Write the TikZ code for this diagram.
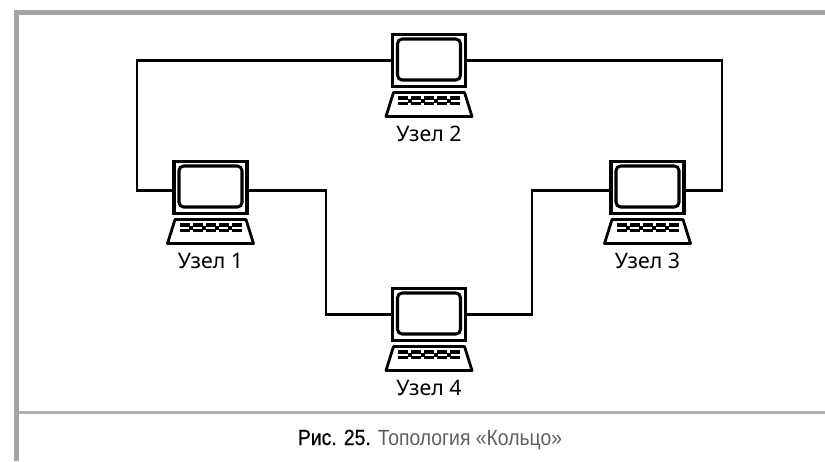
\documentclass[tikz,border=0pt]{standalone}
\usepackage{fontspec}
\setmainfont{Noto Sans}
\newfontfamily\capfont{Liberation Sans}
\definecolor{framegray}{RGB}{163,163,163}
\definecolor{rulegray}{RGB}{175,175,175}
\definecolor{capgray}{RGB}{95,95,95}
\tikzset{
  x=0.75pt,y=-0.75pt,
  screenbox/.style={draw=black,line width=2.7pt,fill=white,rectangle,minimum width=54.5pt,minimum height=39pt,inner sep=0pt,outer sep=0pt},
  screenin/.style={draw=black,line width=2.3pt,rounded corners=3.5pt},
  kbd/.style={draw=black,line width=2.1pt,line join=round},
  wire/.style={draw=black,line width=2.2pt,line join=miter},
  nodelabel/.style={font=\fontsize{16pt}{18pt}\selectfont,text=black,inner sep=0pt},
  framebar/.style={fill=framegray,draw=none},
}
\newcommand{\laptop}[4]{% name, cx, top, label
  \node[screenbox] (#1) at (#2,#3+27.5) {};
  \begin{scope}[shift={(#2,#3)}]
    \draw[screenin] (-31.5,6) rectangle (31.5,47);
    \draw[kbd] (-35.5,59.5) -- (35.5,59.5) -- (43,83.5) -- (-43,83.5) -- cycle;
    \foreach \i in {-26,-13,0,13,26}{
      \fill (\i-5,63) rectangle (\i+5,66.5);
      \fill (\i-5,68.5) rectangle (\i+5,72);
    }
    \foreach \i in {-19.5,-6.5,6.5,19.5}{
      \fill (\i-2,65.5) rectangle (\i+2,69.5);
    }
  \end{scope}
  \node[nodelabel] (#1l) at (#2,#3+100.5) {#4};
}
\begin{document}
\begin{tikzpicture}
\useasboundingbox (0,0) rectangle (825,461);
\fill[white] (0,0) rectangle (825,461);
\fill[framebar] (14,10) rectangle (825,15);
\fill[framebar] (14,10) rectangle (19,461);
\fill[rulegray] (19,411) rectangle (825,414);

\laptop{n2}{429}{33}{Узел 2}
\laptop{n1}{210.5}{160}{Узел 1}
\laptop{n3}{647.5}{160}{Узел 3}
\laptop{n4}{429}{287}{Узел 4}

\coordinate (n1w) at ([yshift=-2.25pt]n1.west);
\coordinate (n1e) at ([yshift=-2.25pt]n1.east);
\coordinate (n3w) at ([yshift=-2.25pt]n3.west);
\coordinate (n3e) at ([yshift=-2.25pt]n3.east);
\coordinate (c1) at (137,190.5);
\coordinate (c2) at (722,190.5);
\coordinate (c3) at (326,190.5);
\coordinate (c4) at (532,190.5);

\draw[wire] (n1w) -- (c1) |- (n2.west);
\draw[wire] (n2.east) -| (c2) -- (n3e);
\draw[wire] (n1e) -- (c3) |- (n4.west);
\draw[wire] (n4.east) -| (c4) -- (n3w);

\node[inner sep=0pt,anchor=base] (cap) at (430,445) {\capfont\fontsize{16.5pt}{18pt}\selectfont\addfontfeature{FakeStretch=0.88}\textcolor{black}{\addfontfeature{FakeBold=0.6}Рис. 25.} \textcolor{capgray}{Топология «Кольцо»}};
\end{tikzpicture}
\end{document}
